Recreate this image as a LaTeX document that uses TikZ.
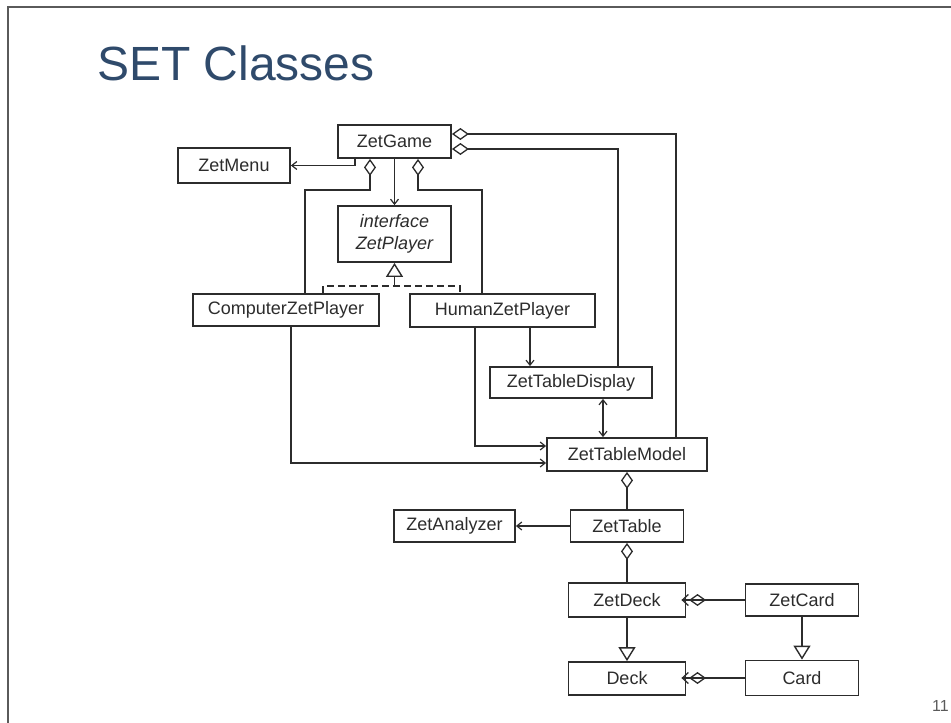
\documentclass[tikz,border=0pt]{standalone}
\usepackage{fontspec}
\setmainfont{Liberation Sans}
\usetikzlibrary{arrows.meta}
\definecolor{ink}{HTML}{2C2C2C}
\definecolor{titleblue}{HTML}{2F4A6B}
\definecolor{framegray}{HTML}{5A5A5A}

\begin{document}
\begin{tikzpicture}[x=1pt,y=-1pt,
  cls/.style={draw=ink, line width=1.8pt, rectangle, inner sep=0pt,
    minimum height=33pt, text=ink, font=\fontsize{18}{21}\selectfont},
  link/.style={draw=ink, line width=1.6pt},
  assoc/.style={link, -{Straight Barb[length=5pt,width=8pt,line width=1.2pt]}},
  both/.style={link, {Straight Barb[length=5pt,width=8pt,line width=1.2pt]}-{Straight Barb[length=5pt,width=8pt,line width=1.2pt]}},
  aggr/.style={link, {Diamond[open,length=17pt,width=12pt,line width=1.3pt]}-},
  navaggr/.style={link, -{Diamond[open,length=17pt,width=12pt,line width=1.3pt] Straight Barb[length=6pt,width=11pt,line width=1.3pt,sep=-5pt]}},
  gen/.style={link, -{Triangle[open,length=14pt,width=17pt,line width=1.4pt]}},
  realize/.style={draw=ink, line width=2.6pt, dash pattern=on 7pt off 4pt}
]
\useasboundingbox (0,0) rectangle (951,723);

% slide frame and heading
\draw[framegray, line width=1.8pt] (8,723) -- (8,7) -- (951,7);
\node[anchor=base west, inner sep=0pt, text=titleblue,
  font=\fontsize{48}{52}\selectfont] (title) at (97,80) {SET Classes};
\node[anchor=base east, inner sep=0pt, text=framegray,
  font=\fontsize{16}{18}\selectfont] (pagenum) at (949,711) {11};

% classes
\node[cls, minimum width=113pt] (ZetGame) at (394.5,141.5) {ZetGame};
\node[cls, minimum width=112pt, minimum height=35pt] (ZetMenu) at (234,165.5) {ZetMenu};
\node[cls, minimum width=113pt, minimum height=56pt, align=center,
  font=\fontsize{18}{22}\selectfont\itshape] (iface) at (394.5,234) {interface\\ZetPlayer};
\node[cls, minimum width=186pt, minimum height=32pt] (Computer) at (286,310) {ComputerZetPlayer};
\node[cls, minimum width=185pt] (Human) at (502.5,310.5) {HumanZetPlayer};
\node[cls, minimum width=162pt, minimum height=31pt] (TDisplay) at (571,382.5) {ZetTableDisplay};
\node[cls, minimum width=160pt] (TModel) at (627,454.5) {ZetTableModel};
\node[cls, minimum width=121pt, minimum height=32pt] (Analyzer) at (454.5,526) {ZetAnalyzer};
\node[cls, minimum width=113pt, minimum height=32pt] (ZetTable) at (627,526) {ZetTable};
\node[cls, minimum width=117pt, minimum height=34pt] (ZetDeck) at (627,600) {ZetDeck};
\node[cls, minimum width=113pt, minimum height=32pt] (ZetCard) at (802,600) {ZetCard};
\node[cls, minimum width=117pt] (Deck) at (627,678.5) {Deck};
\node[cls, minimum width=113pt, minimum height=35pt] (Card) at (802,678) {Card};

% relations from ZetGame
\draw[assoc] ([xshift=-39.5pt]ZetGame.south) |- (ZetMenu.east);
\draw[assoc] (ZetGame.south) -- (iface.north);
\draw[aggr] ([xshift=-24.5pt]ZetGame.south) -- ++(0,31) -| ([xshift=19pt]Computer.north);
\draw[aggr] ([xshift=23.5pt]ZetGame.south) -- ++(0,31) -| ([xshift=-20.5pt]Human.north);
\draw[aggr] ([yshift=7.5pt]ZetGame.east) -| ([xshift=49pt]TModel.north);
\draw[aggr] ([yshift=-7.5pt]ZetGame.east) -| ([xshift=47pt]TDisplay.north);

% players implement the interface
\coordinate (realpt) at (394.5,286);
\draw[realize] ([xshift=37pt]Computer.north) |- (realpt) -| ([xshift=-42.5pt]Human.north);
\draw[gen] (realpt) -- (iface.south);

% players use the table
\draw[assoc] ([xshift=5pt]Computer.south) |- ([yshift=-8.5pt]TModel.west);
\draw[assoc] ([xshift=-27.5pt]Human.south) |- ([yshift=8.5pt]TModel.west);
\draw[assoc] ([xshift=27.5pt]Human.south) -- ([xshift=-41pt]TDisplay.north);
\draw[both] ([xshift=32pt]TDisplay.south) -- ([xshift=-24pt]TModel.north);

% model, table and deck
\draw[aggr] (TModel.south) -- (ZetTable.north);
\draw[assoc] (ZetTable.west) -- (Analyzer.east);
\draw[aggr] (ZetTable.south) -- (ZetDeck.north);
\draw[navaggr] (ZetCard.west) -- (ZetDeck.east);
\draw[gen] (ZetDeck.south) -- (Deck.north);
\draw[gen] (ZetCard.south) -- (Card.north);
\draw[navaggr] (Card.west) -- (Card.west -| Deck.east);
\end{tikzpicture}
\end{document}
